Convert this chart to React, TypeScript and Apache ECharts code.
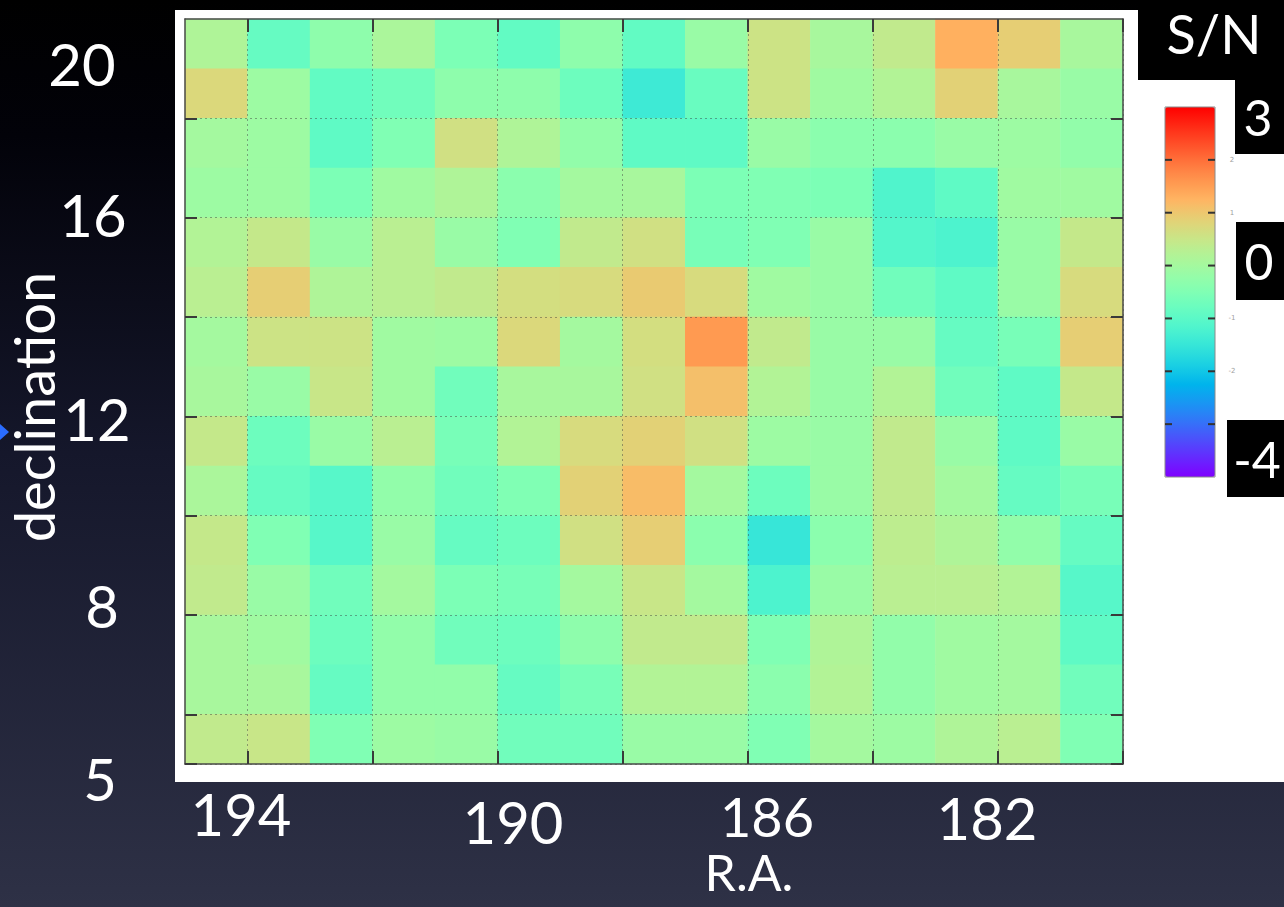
import React, { useEffect, useRef } from 'react';
import * as echarts from 'echarts';

// S/N map: 15 R.A. bins (east to west) x 15 declination bins (north to south)
const raBins = ['c1', 'c2', 'c3', 'c4', 'c5', 'c6', 'c7', 'c8', 'c9', 'c10', 'c11', 'c12', 'c13', 'c14', 'c15'];
const decBins = ['r1', 'r2', 'r3', 'r4', 'r5', 'r6', 'r7', 'r8', 'r9', 'r10', 'r11', 'r12', 'r13', 'r14', 'r15'];

const snRows: number[][] = [
  [0.15, -0.85, -0.3, 0.1, -0.55, -0.9, -0.3, -0.9, -0.15, 0.55, 0.05, 0.4, 1.3, 0.9, 0.05],
  [0.75, -0.1, -0.9, -0.7, -0.3, -0.3, -0.75, -1.4, -0.8, 0.55, -0.05, 0.2, 0.85, 0.05, -0.15],
  [0.0, -0.1, -0.95, -0.5, 0.6, 0.15, -0.25, -0.95, -0.95, -0.15, -0.35, -0.35, -0.15, -0.1, -0.25],
  [-0.1, -0.1, -0.55, -0.05, 0.15, -0.35, 0.0, 0.05, -0.55, -0.5, -0.55, -1.15, -0.95, -0.05, -0.05],
  [0.2, 0.45, -0.15, 0.3, -0.15, -0.5, 0.4, 0.6, -0.6, -0.5, -0.15, -1.1, -1.2, -0.15, 0.45],
  [0.3, 0.9, 0.15, 0.3, 0.4, 0.65, 0.7, 0.95, 0.7, -0.05, -0.15, -0.7, -0.95, -0.15, 0.7],
  [0.0, 0.55, 0.55, -0.05, -0.1, 0.75, 0.0, 0.65, 1.55, 0.4, -0.15, -0.15, -0.85, -0.6, 0.9],
  [0.05, -0.15, 0.5, -0.05, -0.7, 0.05, 0.05, 0.6, 1.1, 0.2, -0.15, 0.2, -0.7, -0.95, 0.45],
  [0.45, -0.75, -0.15, 0.3, -0.6, 0.2, 0.7, 0.85, 0.6, -0.1, -0.15, 0.4, -0.15, -0.95, -0.15],
  [0.1, -0.85, -1.05, -0.25, -0.7, -0.5, 0.85, 1.15, 0.0, -0.75, -0.15, 0.4, 0.0, -0.85, -0.6],
  [0.45, -0.5, -1.05, -0.15, -0.85, -0.75, 0.6, 0.9, -0.35, -1.5, -0.35, 0.35, 0.15, -0.25, -0.85],
  [0.4, -0.15, -0.7, 0.0, -0.55, -0.6, 0.0, 0.5, 0.0, -1.2, -0.15, 0.3, 0.3, 0.2, -1.05],
  [0.05, -0.05, -0.75, -0.25, -0.7, -0.75, -0.3, 0.4, 0.4, -0.5, 0.15, -0.25, -0.05, 0.0, -0.95],
  [0.05, 0.05, -0.85, -0.25, -0.25, -0.85, -0.6, 0.2, 0.2, -0.35, 0.2, -0.25, -0.05, 0.0, -0.7],
  [0.4, 0.5, -0.5, -0.1, -0.15, -0.7, -0.7, -0.15, -0.15, -0.5, 0.0, -0.1, 0.15, 0.3, -0.5],
];

// Colour scale
const snMin = -4;
const snMax = 3;
const colorbarTicks = [3, 2, 1, 0, -1, -2, -3, -4];
const colorbarSmallLabels = ['2', '1', '-1', '-2', '-3'];
const colorbarBigLabels = ['3', '0', '-4'];

// Slide axis labels
const raTickLabels = ['194', '190', '186', '182'];
const decTickLabels = ['20', '16', '12', '8', '5'];
const raTitle = 'R.A.';
const decTitle = 'declination';
const cbTitle = 'S/N';

// Layout (pixels)
const W = 1284;
const H = 907;
const plot = { left: 185, top: 19, width: 938, height: 745 };
const panel = { x: 175, y: 10, w: W - 175, h: 772 };
const cb = { x: 1165, y: 107, w: 50, h: 370 };
const raLabelPos = [[241, 813], [513, 821], [767, 816], [987, 817]];
const raLabelSize = [58, 58, 54, 58];
const decLabelPos = [[82, 63], [93, 214], [97, 418], [102, 605], [100, 778]];
const cbBoxes = [
  { x: 1235, y: 80, w: 49, h: 74, cx: 1258, cy: 117 },
  { x: 1236, y: 222, w: 48, h: 78, cx: 1259, cy: 261 },
  { x: 1227, y: 420, w: 57, h: 77, cx: 1257, cy: 459 },
];
const FONT = "'Gill Sans', Lato, 'Open Sans', sans-serif";

// matplotlib-style "rainbow" colormap
function rainbow(t: number): string {
  const r = Math.min(1, Math.abs(2 * t - 0.5));
  const g = Math.sin(Math.PI * t);
  const b = Math.cos((Math.PI * t) / 2);
  const c = (v: number) => Math.round(Math.max(0, Math.min(1, v)) * 255);
  return `rgb(${c(r)},${c(g)},${c(b)})`;
}
const palette = Array.from({ length: 29 }, (_, i) => rainbow(i / 28));

const cells: [number, number, number][] = [];
snRows.forEach((row, r) => row.forEach((v, c) => cells.push([c, r, v])));

const xTick = (i: number) => i % 2 === 1;
const yTick = (i: number) => i % 2 === 0 && i > 0;
const frameLine = { show: true, lineStyle: { color: '#4a4a4a', width: 1.5 } };
const dotted = { color: 'rgba(60,60,60,0.45)', type: [2, 3] as number[], width: 1 };
const tickStyle = { color: '#3a3a3a', width: 2 };

function txt(text: string, x: number, y: number, size: number, extra: any = {}) {
  return {
    type: 'text',
    x,
    y,
    z: 20,
    ...extra,
    style: {
      text,
      fill: '#ffffff',
      fontSize: size,
      fontFamily: FONT,
      align: 'center',
      verticalAlign: 'middle',
      textAlign: 'center',
      textVerticalAlign: 'middle',
    },
  };
}

function buildOption(): any {
  const cbY = (v: number) => cb.y + ((snMax - v) / (snMax - snMin)) * cb.h;
  const graphics: any[] = [];

  graphics.push({
    type: 'rect',
    z: -20,
    shape: { x: 0, y: 0, width: W, height: H },
    style: {
      fill: new echarts.graphic.LinearGradient(0, 0, 0, 1, [
        { offset: 0, color: '#000000' },
        { offset: 0.15, color: '#020209' },
        { offset: 0.5, color: '#15172b' },
        { offset: 1, color: '#2e3146' },
      ]),
    },
  });
  graphics.push({
    type: 'rect',
    z: -19,
    shape: { x: panel.x, y: panel.y, width: panel.w, height: panel.h },
    style: { fill: '#ffffff' },
  });

  // colour bar frame, ticks and small tick labels
  graphics.push({
    type: 'rect',
    z: 10,
    shape: { x: cb.x, y: cb.y, width: cb.w, height: cb.h },
    style: { fill: 'none', stroke: '#8a8a8a', lineWidth: 1 },
  });
  colorbarTicks.forEach((v) => {
    if (v === snMax || v === snMin) return;
    const y = cbY(v);
    graphics.push({ type: 'line', z: 11, shape: { x1: cb.x, y1: y, x2: cb.x + 7, y2: y }, style: { stroke: '#333', lineWidth: 2 } });
    graphics.push({ type: 'line', z: 11, shape: { x1: cb.x + cb.w - 7, y1: y, x2: cb.x + cb.w, y2: y }, style: { stroke: '#333', lineWidth: 2 } });
  });
  colorbarSmallLabels.forEach((t) => {
    graphics.push({
      type: 'text',
      x: cb.x + cb.w + 17,
      y: cbY(Number(t)),
      z: 11,
      style: { text: t, fill: '#a0a0a0', fontSize: 7, fontFamily: 'DejaVu Sans', align: 'center', verticalAlign: 'middle' },
    });
  });

  // black caption boxes
  graphics.push({ type: 'rect', z: 15, shape: { x: 1138, y: 0, width: W - 1138, height: 80 }, style: { fill: '#000' } });
  graphics.push(txt(cbTitle, 1214, 33, 54));
  cbBoxes.forEach((b, i) => {
    graphics.push({ type: 'rect', z: 15, shape: { x: b.x, y: b.y, width: b.w, height: b.h }, style: { fill: '#000' } });
    graphics.push(txt(colorbarBigLabels[i], b.cx, b.cy, 50));
  });

  // axis captions
  raTickLabels.forEach((t, i) => graphics.push(txt(t, raLabelPos[i][0], raLabelPos[i][1], raLabelSize[i])));
  decTickLabels.forEach((t, i) => graphics.push(txt(t, decLabelPos[i][0], decLabelPos[i][1], 58)));
  graphics.push(txt(raTitle, 749, 872, 50));
  graphics.push(txt(decTitle, 33, 407, 56, { rotation: Math.PI / 2 }));
  graphics.push({
    type: 'polygon',
    z: 20,
    shape: { points: [[0, 424], [9, 432], [0, 440]] },
    style: { fill: '#2a6cff' },
  });

  return {
    animation: false,
    backgroundColor: 'transparent',
    grid: { left: plot.left, top: plot.top, width: plot.width, height: plot.height, containLabel: false },
    xAxis: [
      {
        type: 'category',
        data: raBins,
        position: 'bottom',
        z: 5,
        axisLine: frameLine,
        axisTick: { show: true, inside: true, length: 13, interval: xTick, lineStyle: tickStyle },
        axisLabel: { show: false },
        splitLine: { show: true, interval: xTick, lineStyle: dotted },
      },
      {
        type: 'category',
        data: raBins,
        position: 'top',
        z: 5,
        axisLine: frameLine,
        axisTick: { show: true, inside: true, length: 13, interval: xTick, lineStyle: tickStyle },
        axisLabel: { show: false },
        splitLine: { show: false },
      },
    ],
    yAxis: [
      {
        type: 'category',
        data: decBins,
        inverse: true,
        position: 'left',
        z: 5,
        axisLine: frameLine,
        axisTick: { show: true, inside: true, length: 12, interval: yTick, lineStyle: tickStyle },
        axisLabel: { show: false },
        splitLine: { show: true, interval: yTick, lineStyle: dotted },
      },
      {
        type: 'category',
        data: decBins,
        inverse: true,
        position: 'right',
        z: 5,
        axisLine: frameLine,
        axisTick: { show: true, inside: true, length: 12, interval: yTick, lineStyle: tickStyle },
        axisLabel: { show: false },
        splitLine: { show: false },
      },
    ],
    visualMap: {
      type: 'continuous',
      min: snMin,
      max: snMax,
      dimension: 2,
      seriesIndex: 0,
      calculable: false,
      hoverLink: false,
      orient: 'vertical',
      left: cb.x,
      top: cb.y,
      padding: 0,
      itemWidth: cb.w,
      itemHeight: cb.h,
      inRange: { color: palette },
      textStyle: { color: 'transparent' },
    },
    series: [
      {
        type: 'heatmap',
        xAxisIndex: 0,
        yAxisIndex: 0,
        data: cells,
        itemStyle: { borderWidth: 0 },
        emphasis: { disabled: true },
        progressive: 0,
      },
    ],
    graphic: { elements: graphics },
  };
}

export default function App() {
  const ref = useRef<HTMLDivElement>(null);
  useEffect(() => {
    if (!ref.current) return;
    const chart = echarts.init(ref.current, null, { renderer: 'svg' });
    chart.setOption(buildOption());
    return () => chart.dispose();
  }, []);
  return <div ref={ref} style={{ position: 'absolute', left: 0, top: 0, width: W, height: H }} />;
}
